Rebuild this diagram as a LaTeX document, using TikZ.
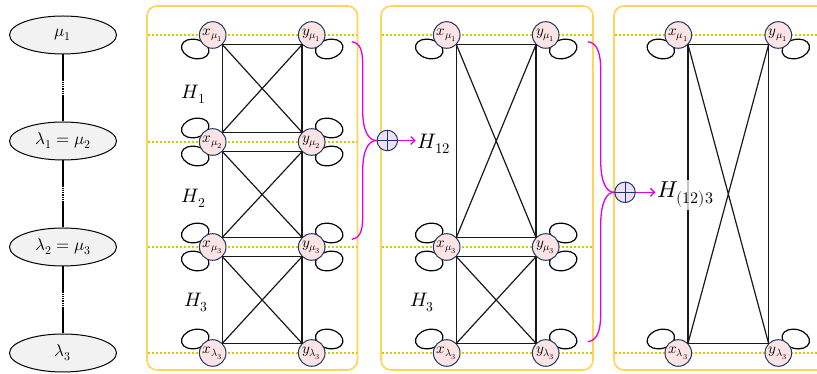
\documentclass[tikz,border=0pt]{standalone}
\usepackage{unicode-math}
\usetikzlibrary{shapes.geometric,arrows.meta,calc}
\pgfdeclarelayer{bg}
\pgfsetlayers{bg,main}
\definecolor{panelY}{HTML}{FFD45A}
\definecolor{guideY}{HTML}{CCCC00}
\definecolor{navyc}{HTML}{203864}
\definecolor{pinkc}{HTML}{FCE4E4}
\definecolor{grayc}{HTML}{F2F2F2}
\definecolor{lavc}{HTML}{EFE0F7}
\definecolor{magc}{HTML}{E000E0}
\newcommand{\lpLD}[1]{\draw[lpline] ($(#1)+(-17.5,-14)$) ellipse [x radius=14, y radius=9.5, rotate=-15];}
\newcommand{\lpLU}[1]{\draw[lpline] ($(#1)+(-17.5,14)$) ellipse [x radius=14, y radius=9.5, rotate=15];}
\newcommand{\lpRD}[1]{\draw[lpline] ($(#1)+(17.5,-14)$) ellipse [x radius=14, y radius=9.5, rotate=15];}
\newcommand{\lpRU}[1]{\draw[lpline] ($(#1)+(17.5,14)$) ellipse [x radius=14, y radius=9.5, rotate=-15];}
\newcommand{\blk}[4]{%
  \draw[edgeline] (#1.south east) -- (#2.south west) -- (#4.north west) -- (#3.north east) -- cycle;
  \draw[edgeline] (#1.south east) -- (#4.north west) (#2.south west) -- (#3.north east);}
\begin{document}
\begin{tikzpicture}[x=1pt,y=1pt,
  vn/.style={circle,draw=navyc,fill=pinkc,line width=1pt,minimum size=26.6pt,inner sep=0pt,font=\fontsize{15}{15}\selectfont},
  ell/.style={ellipse,draw=black,fill=grayc,line width=1pt,minimum width=107pt,minimum height=38pt,inner sep=0pt,font=\fontsize{17}{17}\selectfont},
  econ/.style={line width=1.6pt,black},
  panel/.style={draw=panelY,line width=1.6pt,rounded corners=10pt},
  guide/.style={draw=guideY,line width=1.6pt,dash pattern=on 2pt off 2pt},
  edgeline/.style={draw=black!90,line width=1.2pt},
  lpline/.style={draw=black,line width=1.2pt},
  hl/.style={font=\fontsize{19.5}{20}\selectfont,inner sep=0pt,anchor=base west},
  opl/.style={circle,draw=navyc,fill=lavc,line width=1pt,minimum size=20.5pt,inner sep=0pt},
  oplx/.style={draw=navyc,line width=1pt},
  mag/.style={draw=magc,line width=1.3pt},
  arr/.style={-{Straight Barb[length=4pt,width=8pt]}}]
\useasboundingbox (0,0) rectangle (817,374);
\clip (0,0) rectangle (817,374);

% left column
\node[ell] (e1) at (63,339) {$\mu_1$};
\node[ell] (e2) at (63,233) {$\lambda_1=\mu_2$};
\node[ell] (e3) at (63,127) {$\lambda_2=\mu_3$};
\node[ell] (e4) at (63,21) {$\lambda_3$};
\foreach \a/\b in {e1/e2,e2/e3,e3/e4}{
  \draw[econ] (\a.south) -- ($(\a.south)!0.37!(\b.north)$);
  \draw[econ,dash pattern=on 1.3pt off 1pt] ($(\a.south)!0.37!(\b.north)$) -- ($(\a.south)!0.62!(\b.north)$);
  \draw[econ] ($(\a.south)!0.62!(\b.north)$) -- (\b.north);
}

% panels
\draw[panel] (147,4) rectangle (357.5,368);
\draw[panel] (381,4) rectangle (593,368);
\draw[panel] (614,4) rectangle (840,368);

% guides
\foreach \y in {339,232,127,21} \draw[guide] (147.8,\y) -- (356.7,\y);
\foreach \y in {339,127,21} \draw[guide] (381.8,\y) -- (592.2,\y);
\foreach \y in {339,21} \draw[guide] (614.8,\y) -- (817,\y);

% panel 1 nodes
\node[vn] (a1) at (212.7,339) {$x_{\mu_1}$};
\node[vn] (b1) at (311.7,339) {$y_{\mu_1}$};
\node[vn] (a2) at (212.7,232) {$x_{\mu_2}$};
\node[vn] (b2) at (311.7,232) {$y_{\mu_2}$};
\node[vn] (a3) at (212.7,127) {$x_{\mu_3}$};
\node[vn] (b3) at (311.7,127) {$y_{\mu_3}$};
\node[vn] (a4) at (212.7,21) {$x_{\lambda_3}$};
\node[vn] (b4) at (311.7,21) {$y_{\lambda_3}$};
% panel 2 nodes
\node[vn] (p1) at (446.7,339) {$x_{\mu_1}$};
\node[vn] (q1) at (545.7,339) {$y_{\mu_1}$};
\node[vn] (p3) at (446.7,127) {$x_{\mu_3}$};
\node[vn] (q3) at (545.7,127) {$y_{\mu_3}$};
\node[vn] (p4) at (446.7,21) {$x_{\lambda_3}$};
\node[vn] (q4) at (545.7,21) {$y_{\lambda_3}$};
% panel 3 nodes
\node[vn] (r1) at (678.3,339) {$x_{\mu_1}$};
\node[vn] (s1) at (778.3,339) {$y_{\mu_1}$};
\node[vn] (r4) at (678.3,21) {$x_{\lambda_3}$};
\node[vn] (s4) at (778.3,21) {$y_{\lambda_3}$};

% blocks
\blk{a1}{b1}{a2}{b2}
\blk{a2}{b2}{a3}{b3}
\blk{a3}{b3}{a4}{b4}
\blk{p1}{q1}{p3}{q3}
\blk{p3}{q3}{p4}{q4}
\blk{r1}{s1}{r4}{s4}

% self loops (behind the nodes)
\begin{pgfonlayer}{bg}
\lpLD{a1} \lpRD{b1}
\lpLU{a2} \lpLD{a2} \lpRU{b2} \lpRD{b2}
\lpLU{a3} \lpLD{a3} \lpRU{b3} \lpRD{b3}
\lpLU{a4} \lpRU{b4}
\lpLD{p1} \lpRD{q1}
\lpLU{p3} \lpLD{p3} \lpRU{q3} \lpRD{q3}
\lpLU{p4} \lpRU{q4}
\lpLD{r1} \lpRD{s1}
\lpLU{r4} \lpRU{s4}
\end{pgfonlayer}

% H labels
\node[hl] (h1) at (181.7,275.7) {$H_1$};
\node[hl] (h2) at (181.7,171) {$H_2$};
\node[hl] (h3) at (184.3,67.3) {$H_3$};
\node[hl] (h3b) at (410,67.3) {$H_3$};

% merge 1
\node[opl] (o1) at (387.3,233.5) {};
\draw[oplx] (o1.north) -- (o1.south) (o1.west) -- (o1.east);
\coordinate (m1a) at (351.7,332.3);
\coordinate (m1b) at (351.7,134.7);
\draw[mag] (m1a) .. controls (361,331) and (362.7,322) .. (362.7,309) -- (362.7,264) .. controls (362.7,244) and (368,233.5) .. (o1.west);
\draw[mag] (m1b) .. controls (361,136) and (362.7,145) .. (362.7,158) -- (362.7,203) .. controls (362.7,223) and (368,233.5) .. (o1.west);
\node[hl,inner sep=2pt,font=\fontsize{21}{22}\selectfont] (h12) at (415.7,225.7) {$H_{12}$};
\draw[mag,arr] (o1.east) -- (o1.east -| h12.west);

% merge 2
\node[opl] (o2) at (625,181.7) {};
\draw[oplx] (o2.north) -- (o2.south) (o2.west) -- (o2.east);
\coordinate (m2a) at (588,332.3);
\coordinate (m2b) at (588,32.3);
\draw[mag] (m2a) .. controls (598,331) and (600.7,319) .. (600.7,304) -- (600.7,214) .. controls (600.7,192) and (606,181.7) .. (o2.west);
\draw[mag] (m2b) .. controls (598,33.6) and (600.7,45.3) .. (600.7,60.3) -- (600.7,148.6) .. controls (600.7,170.6) and (606,181.7) .. (o2.west);
\node[hl,inner sep=2pt,fill=white,fill opacity=0.75,text opacity=1,font=\fontsize{23}{24}\selectfont] (h123) at (655.3,176) {$H_{(12)3}$};
\draw[mag,arr] (o2.east) -- (o2.east -| h123.west);
\end{tikzpicture}
\end{document}
